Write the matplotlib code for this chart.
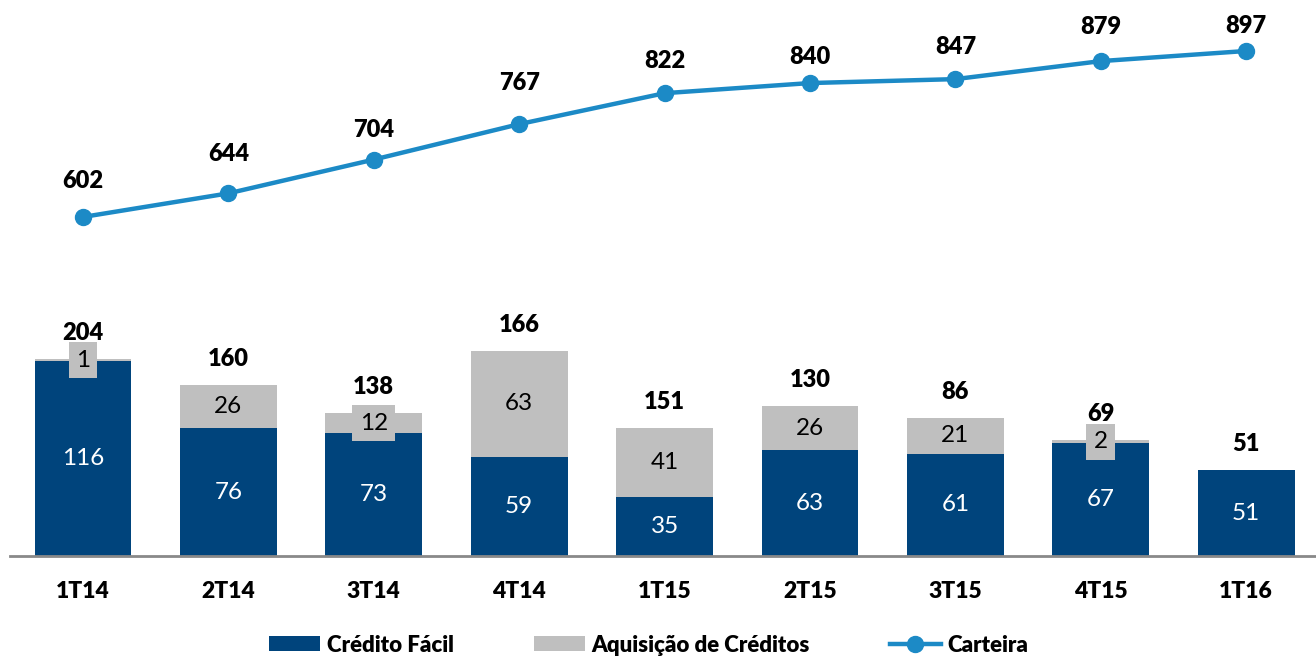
import numpy as np
import matplotlib.pyplot as plt

plt.rcParams['font.family'] = ['Lato', 'DejaVu Sans']

quarters = ['1T14', '2T14', '3T14', '4T14', '1T15', '2T15', '3T15', '4T15', '1T16']
credito_facil = [116, 76, 73, 59, 35, 63, 61, 67, 51]
aquisicao = [1, 26, 12, 63, 41, 26, 21, 2, 0]
totais = [204, 160, 138, 166, 151, 130, 86, 69, 51]
carteira = [602, 644, 704, 767, 822, 840, 847, 879, 897]

# label offsets above the line points (pixels)
line_dy = [36, 39, 30, 41, 32, 26, 32, 34, 25]

c_blue = '#00447C'
c_gray = '#BFBFBF'
c_line = '#1C8AC6'
bold = 'heavy'

fig = plt.figure(figsize=(13.16, 6.59), dpi=100)
ax = fig.add_axes([10 / 1316, 103 / 659, 1306 / 1316, 556 / 659])
ax2 = ax.twinx()

x = np.arange(len(quarters))
w = 0.667
b1 = ax.bar(x, credito_facil, w, color=c_blue, label='Crédito Fácil', zorder=2)
b2 = ax.bar(x, aquisicao, w, bottom=credito_facil, color=c_gray,
            label='Aquisição de Créditos', zorder=2)

for i in range(len(x)):
    ax.text(x[i], credito_facil[i] / 2, str(credito_facil[i]), ha='center', va='center',
            color='white', fontsize=17.5, zorder=3)
    if aquisicao[i] > 0:
        ax.text(x[i], credito_facil[i] + aquisicao[i] / 2, str(aquisicao[i]),
                ha='center', va='center', color='black', fontsize=17.5, zorder=3,
                bbox=dict(boxstyle='square,pad=0.3', fc=c_gray, ec='none'))
    top = credito_facil[i] + aquisicao[i]
    ax.annotate(str(totais[i]), (x[i], top), xytext=(0, 26), textcoords='offset pixels',
                ha='center', va='center', fontsize=17, fontweight=bold, zorder=4)

ax.set_xlim(-0.502, 8.48)
ax.set_ylim(0, 556 / 1.68)
ax.set_yticks([])
ax.set_xticks(x)
ax.set_xticklabels(quarters, fontsize=16.5, fontweight=bold)
ax.tick_params(axis='x', length=0, pad=18)
for s in ['top', 'right', 'left']:
    ax.spines[s].set_visible(False)
ax.spines['bottom'].set_color('#898989')
ax.spines['bottom'].set_linewidth(2)

ln, = ax2.plot(x, carteira, color=c_line, lw=3.2, marker='o', markersize=11.5,
               label='Carteira', zorder=5)
for i in range(len(x)):
    ax2.annotate(str(carteira[i]), (x[i], carteira[i]), xytext=(0, line_dy[i]),
                 textcoords='offset pixels', ha='center', va='center',
                 fontsize=17, fontweight=bold)
ax2.set_ylim(-0.5, 987.6)
ax2.set_yticks([])
for s in ax2.spines.values():
    s.set_visible(False)

fig.legend(handles=[b1, b2, ln], loc='center', bbox_to_anchor=(0.493, 0.021), ncol=3,
           frameon=False, prop={'size': 16, 'weight': bold}, handlelength=2.3,
           handleheight=0.65, handletextpad=0.3, columnspacing=3.6)

fig.savefig('out.png', dpi=100)
